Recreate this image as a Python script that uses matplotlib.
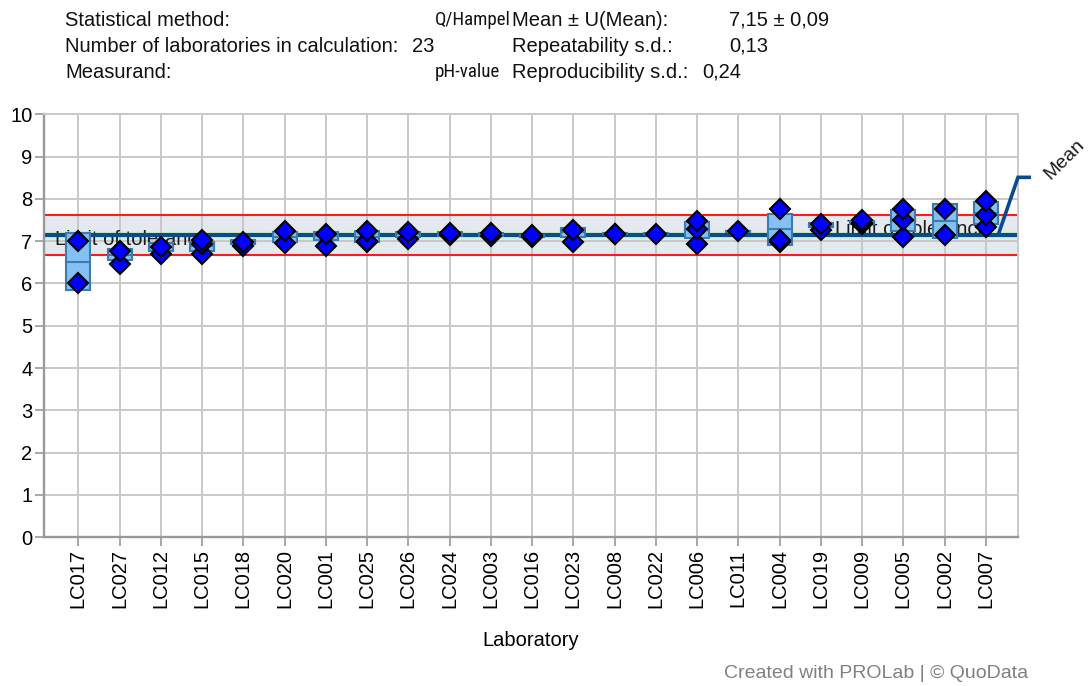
import matplotlib
matplotlib.use("Agg")
import matplotlib.pyplot as plt
from matplotlib.patches import Rectangle
from matplotlib import font_manager
import numpy as np

plt.rcParams['font.family'] = ['Liberation Sans', 'DejaVu Sans']

# ---------------- data ----------------
labs = ["LC017", "LC027", "LC012", "LC015", "LC018", "LC020", "LC001", "LC025",
        "LC026", "LC024", "LC003", "LC016", "LC023", "LC008", "LC022", "LC006",
        "LC011", "LC004", "LC019", "LC009", "LC005", "LC002", "LC007"]

values = [
    [6.00, 7.00],
    [6.45, 6.77],
    [6.70, 6.86],
    [6.70, 6.93, 7.03],
    [6.89, 6.98],
    [6.95, 7.25],
    [6.89, 7.17],
    [6.97, 7.00, 7.25],
    [7.06, 7.21],
    [7.14, 7.20],
    [7.13, 7.20],
    [7.10, 7.14],
    [6.98, 7.26],
    [7.18, 7.18],
    [7.18],
    [6.94, 7.28, 7.47],
    [7.23],
    [6.98, 7.03, 7.75],
    [7.26, 7.40],
    [7.40, 7.44, 7.49],
    [7.09, 7.50, 7.75],
    [7.14, 7.77],
    [7.34, 7.63, 7.95],
]

box_lo = [5.84, 6.55, 6.78, 6.78, 6.94, 6.98, 7.02, 6.98, 7.10, 7.12, 7.12, 7.10,
          7.11, 7.16, 7.16, 7.07, 7.21, 6.92, 7.33, 7.40, 7.24, 7.07, 7.41]
box_hi = [7.19, 6.82, 6.95, 6.97, 7.04, 7.21, 7.22, 7.24, 7.22, 7.21, 7.20, 7.15,
          7.31, 7.20, 7.20, 7.45, 7.25, 7.65, 7.42, 7.48, 7.73, 7.87, 7.93]

mean_value = 7.15
mean_unc = 0.09
tol_lo = 6.67
tol_hi = 7.63

yticks = list(range(0, 11))

header_rows = [
    ["Statistical method:", "Q/Hampel", "Mean \u00b1 U(Mean):", "7,15 \u00b1 0,09"],
    ["Number of laboratories in calculation:", "23", "Repeatability s.d.:", "0,13"],
    ["Measurand:", "pH-value", "Reproducibility s.d.:", "0,24"],
]

# ---------------- figure ----------------
W, H = 1092, 686
fig = plt.figure(figsize=(W / 100, H / 100), dpi=100)
fig.patch.set_facecolor("white")

L, R, T, B = 44.3, 1018.0, 114.3, 537.3
ax = fig.add_axes([L / W, 1 - B / H, (R - L) / W, (B - T) / H])

x = np.arange(len(labs))
ax.set_xlim(-0.824, 22.78)
ax.set_ylim(0, 10)

grid_c = "#c8c8c8"
ax.set_axisbelow(True)
ax.grid(True, color=grid_c, lw=1.4, zorder=0.5)
ax.set_xticks(x)
ax.set_xticklabels(labs, rotation=90, fontsize=14.5)
ax.set_yticks(yticks)
ax.set_yticklabels([str(v) for v in yticks], fontsize=14.5)
ax.tick_params(axis="both", direction="out", length=6.5, width=1.3,
               color="#a0a0a0", pad=2)

for s in ["left", "bottom"]:
    ax.spines[s].set_color("#999999")
    ax.spines[s].set_linewidth(1.7)
for s in ["top", "right"]:
    ax.spines[s].set_color(grid_c)
    ax.spines[s].set_linewidth(1.4)

# tolerance band and uncertainty of mean
ax.axhspan(tol_lo, tol_hi, color="#e3e9ee", lw=0, zorder=0.2)
ax.axhspan(mean_value - mean_unc, mean_value + mean_unc, color="#d3f2cf", lw=0, zorder=0.3)

# labels "Limit of tolerance"
ax.text(-0.565, 7.03, "Limit of tolerance", fontsize=14.5, va="center", ha="left",
        color="#1a1a1a", zorder=0.8)
ax.text(18.35, 7.27, "Limit of tolerance", fontsize=14.5, va="center", ha="left",
        color="#1a1a1a", zorder=0.8)

ax.axhline(tol_lo, color="#ff1a1a", lw=1.5, zorder=1.2)
ax.axhline(tol_hi, color="#ff1a1a", lw=1.5, zorder=1.2)
ax.axhline(mean_value, color="#0b4a8b", lw=3.0, zorder=1.5)

# Mean callout
ax.plot([22.30, 22.78, 23.05], [mean_value, 8.51, 8.51], color="#0b4a8b", lw=2.6,
        clip_on=False, zorder=4, solid_joinstyle="miter")
ax.text(23.9, 8.93, "Mean", fontsize=14, rotation=45, ha="center", va="center",
        rotation_mode="anchor", clip_on=False, color="#1a1a1a")

# boxes
bw = 0.58
for i in range(len(labs)):
    lo, hi = box_lo[i], box_hi[i]
    ax.add_patch(Rectangle((x[i] - bw / 2, lo), bw, hi - lo, facecolor="#84c0f3",
                           edgecolor="#3c7bb0", lw=1.5, zorder=2))
    mid = (lo + hi) / 2
    ax.plot([x[i] - bw / 2, x[i] + bw / 2], [mid, mid], color="#3c7bb0", lw=1.5, zorder=2.1)

# individual values
for i, vals in enumerate(values):
    ax.plot([x[i]] * len(vals), vals, linestyle="none", marker="D", ms=9.8,
            markerfacecolor="#0000ff", markeredgecolor="black", mew=1.5, zorder=3)

ax.set_xlabel("Laboratory", fontsize=14.5)
ax.xaxis.set_label_coords(0.5, -(640 - B) / (B - T), transform=ax.transAxes)
ax.xaxis.label.set_va("center")

# header
names = {f.name for f in font_manager.fontManager.ttflist}
narrow_family = None
for cand in ["Liberation Sans Narrow", "Arial Narrow", "Roboto Condensed", "Open Sans Condensed"]:
    if cand in names:
        narrow_family = cand
        break

col_x = [[65, 435, 512, 729], [65, 412, 512, 729], [65, 435, 512, 702]]
row_y = [20, 46, 72]
for r, row in enumerate(header_rows):
    for c, txt in enumerate(row):
        kw = dict(fontsize=14.5)
        if c == 1 and r != 1:
            if narrow_family:
                kw = dict(fontsize=13.6, family=[narrow_family, "DejaVu Sans"])
            else:
                kw = dict(fontsize=11)
        fig.text(col_x[r][c] / W, 1 - row_y[r] / H, txt, ha="left",
                 va="center", color="#111111", **kw)

fig.text(1028 / W, 1 - 674 / H, "Created with PROLab | \u00a9 QuoData", fontsize=14,
         ha="right", va="center", color="#808080")

fig.savefig("out.png", dpi=100)
